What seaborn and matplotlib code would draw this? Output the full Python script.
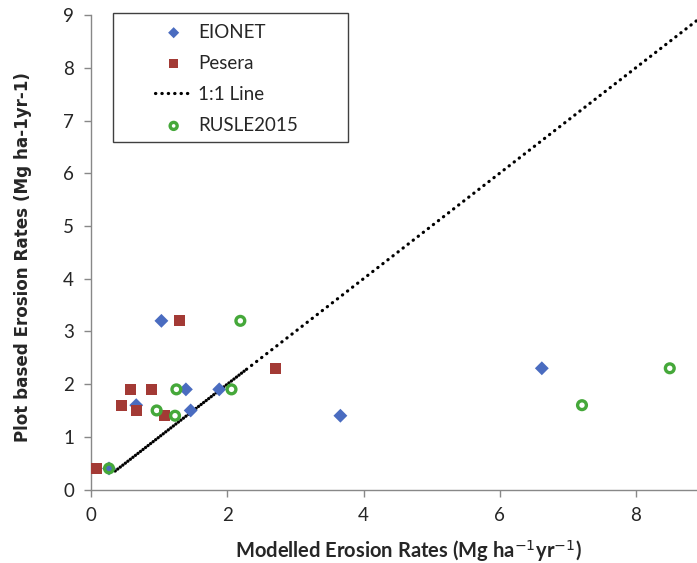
import numpy as np
import pandas as pd
import seaborn as sns
import matplotlib
matplotlib.use('Agg')
import matplotlib.pyplot as plt
from matplotlib.patches import Rectangle

# --- Valores ---
eionet_x = [0.26, 0.66, 1.03, 1.39, 1.46, 1.88, 3.66, 6.62]
eionet_y = [0.4, 1.6, 3.2, 1.9, 1.5, 1.9, 1.4, 2.3]

pesera_x = [0.07, 0.45, 0.57, 0.67, 0.89, 1.08, 1.29, 2.71]
pesera_y = [0.4, 1.6, 1.9, 1.5, 1.9, 1.4, 3.2, 2.3]

rusle_x = [0.26, 0.96, 1.23, 1.25, 2.06, 2.19, 7.21, 8.5]
rusle_y = [0.4, 1.5, 1.4, 1.9, 1.9, 3.2, 1.6, 2.3]

# linha 1:1 (trecho denso no inicio, depois pontilhada ate o fim)
linha_x = [0.35, 2.3, 8.9]
linha_y = linha_x

x_ticks = [0, 2, 4, 6, 8]
y_ticks = [0, 1, 2, 3, 4, 5, 6, 7, 8, 9]

# --- Estilo ---
sns.set_style('white')
plt.rcParams['font.family'] = ['Lato', 'DejaVu Sans']
cinza = '#888888'
texto = '#262626'

fig = plt.figure(figsize=(6.97, 5.63), dpi=100)
ax = fig.add_axes([0.131, 0.1305, 0.869, 0.8427])

sns.scatterplot(x=eionet_x, y=eionet_y, marker='D', s=50, color='#4a6cc0',
                edgecolor='none', label='EIONET', ax=ax, zorder=3)
sns.scatterplot(x=pesera_x, y=pesera_y, marker='s', s=62, color='#a33a35',
                edgecolor='none', label='Pesera', ax=ax, zorder=3)
ax.plot(linha_x, linha_y, color='black', lw=2.3, linestyle=(0, (0.1, 1.9)),
        dash_capstyle='round', label='1:1 Line', zorder=2)
ax.plot(linha_x[:2], linha_y[:2], color='black', lw=2.3, linestyle=(1.0, (0.1, 1.9)),
        dash_capstyle='round', zorder=2)
sns.scatterplot(x=rusle_x, y=rusle_y, marker='o', s=40, facecolors='none',
                edgecolor='#45a83a', linewidth=2.4, label='RUSLE2015', ax=ax, zorder=4)

ax.set_xlim(0, 8.9)
ax.set_ylim(0, 9)
ax.set_xticks(x_ticks)
ax.set_yticks(y_ticks)

for lado in ['top', 'right']:
    ax.spines[lado].set_visible(False)
for lado in ['left', 'bottom']:
    ax.spines[lado].set_color(cinza)
    ax.spines[lado].set_linewidth(1.0)

ax.tick_params(axis='both', direction='out', length=5, width=1.0, color=cinza,
               labelsize=13.5, labelcolor=texto, pad=7.5, left=True, bottom=True)

ax.set_xlabel('Modelled Erosion Rates (Mg ha$^{-1}$yr$^{-1}$)', fontsize=14.5,
              fontweight='bold', color=texto)
ax.set_ylabel('Plot based Erosion Rates (Mg ha-1yr-1)', fontsize=12.1,
              fontweight='bold', color=texto, family=['DejaVu Sans'])
ax.xaxis.set_label_coords(0.523, -0.102)
ax.yaxis.set_label_coords(-0.098, 0.49)

# legenda sem moldura + moldura desenhada a parte
leg = ax.legend(loc='upper left', bbox_to_anchor=(0.105, 0.982), frameon=False,
                fontsize=13.5, borderpad=0, borderaxespad=0, handlelength=2.0,
                handletextpad=0.3, labelspacing=0.75, markerscale=0.8)
leg.set_zorder(6)
moldura = Rectangle((0.0353, 0.7324), 0.3885, 0.2718, transform=ax.transAxes,
                    facecolor='white', edgecolor='#404040', lw=1.0, clip_on=False, zorder=5)
ax.add_patch(moldura)

plt.savefig('out.png', dpi=100)
plt.close()
